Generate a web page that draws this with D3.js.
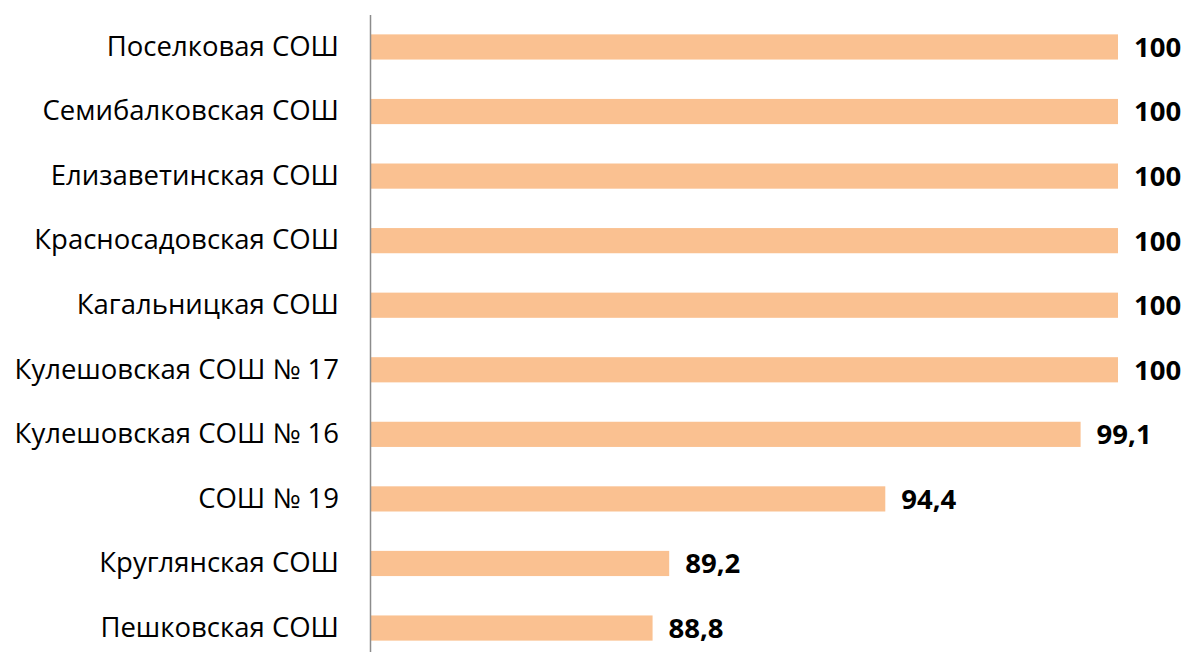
<!DOCTYPE html>
<html>
<head>
<meta charset="utf-8">
<script src="https://cdn.jsdelivr.net/npm/d3@7"></script>
<style>
  body { margin: 0; background: #fff; }
  text { font-family: "Open Sans", "Liberation Sans", sans-serif; }
</style>
</head>
<body>
<svg id="chart" width="1185" height="652"></svg>
<script>
// schools, top to bottom
var schools = [
    "Поселковая СОШ",
    "Семибалковская СОШ",
    "Елизаветинская СОШ",
    "Красносадовская СОШ",
    "Кагальницкая СОШ",
    "Кулешовская СОШ № 17",
    "Кулешовская СОШ № 16",
    "СОШ № 19",
    "Круглянская СОШ",
    "Пешковская СОШ"
];
var values = [100, 100, 100, 100, 100, 100, 99.1, 94.4, 89.2, 88.8];
var axisDomain = [82, 100];

var svg = d3.select("#chart");

var x = d3.scaleLinear()
    .domain(axisDomain)
    .range([370, 1118]);

var y = d3.scaleBand()
    .domain(schools)
    .range([15, 660])
    .paddingInner(0.61)
    .paddingOuter(0.3);

var fmt = function(v) { return String(v).replace(".", ","); };

// bars
svg.selectAll("rect.bar")
    .data(values)
    .enter()
    .append("rect")
    .attr("class", "bar")
    .attr("x", x(axisDomain[0]))
    .attr("y", function(d, i) { return y(schools[i]); })
    .attr("width", function(d) { return x(d) - x(axisDomain[0]); })
    .attr("height", y.bandwidth())
    .attr("fill", "#fac191");

// value labels
svg.selectAll("text.val")
    .data(values)
    .enter()
    .append("text")
    .attr("class", "val")
    .attr("x", function(d) { return x(d) + 16; })
    .attr("y", function(d, i) { return y(schools[i]) + y.bandwidth() / 2; })
    .attr("dy", "0.36em")
    .attr("font-size", 27.5)
    .attr("font-weight", "bold")
    .attr("fill", "#000")
    .text(fmt);

// category axis
var yAxis = d3.axisLeft(y).tickSize(0).tickPadding(31);
var ag = svg.append("g")
    .attr("transform", "translate(" + x(axisDomain[0]) + ",0)")
    .call(yAxis);
ag.select(".domain").remove();
ag.selectAll(".tick text")
    .attr("font-size", 27.5)
    .attr("fill", "#000")
    .style("font-family", "'Open Sans', sans-serif");

svg.append("line")
    .attr("x1", x(axisDomain[0]) + 0.5)
    .attr("x2", x(axisDomain[0]) + 0.5)
    .attr("y1", 15)
    .attr("y2", 652)
    .attr("stroke", "#8c8c8c")
    .attr("stroke-width", 1.5);
</script>
</body>
</html>
